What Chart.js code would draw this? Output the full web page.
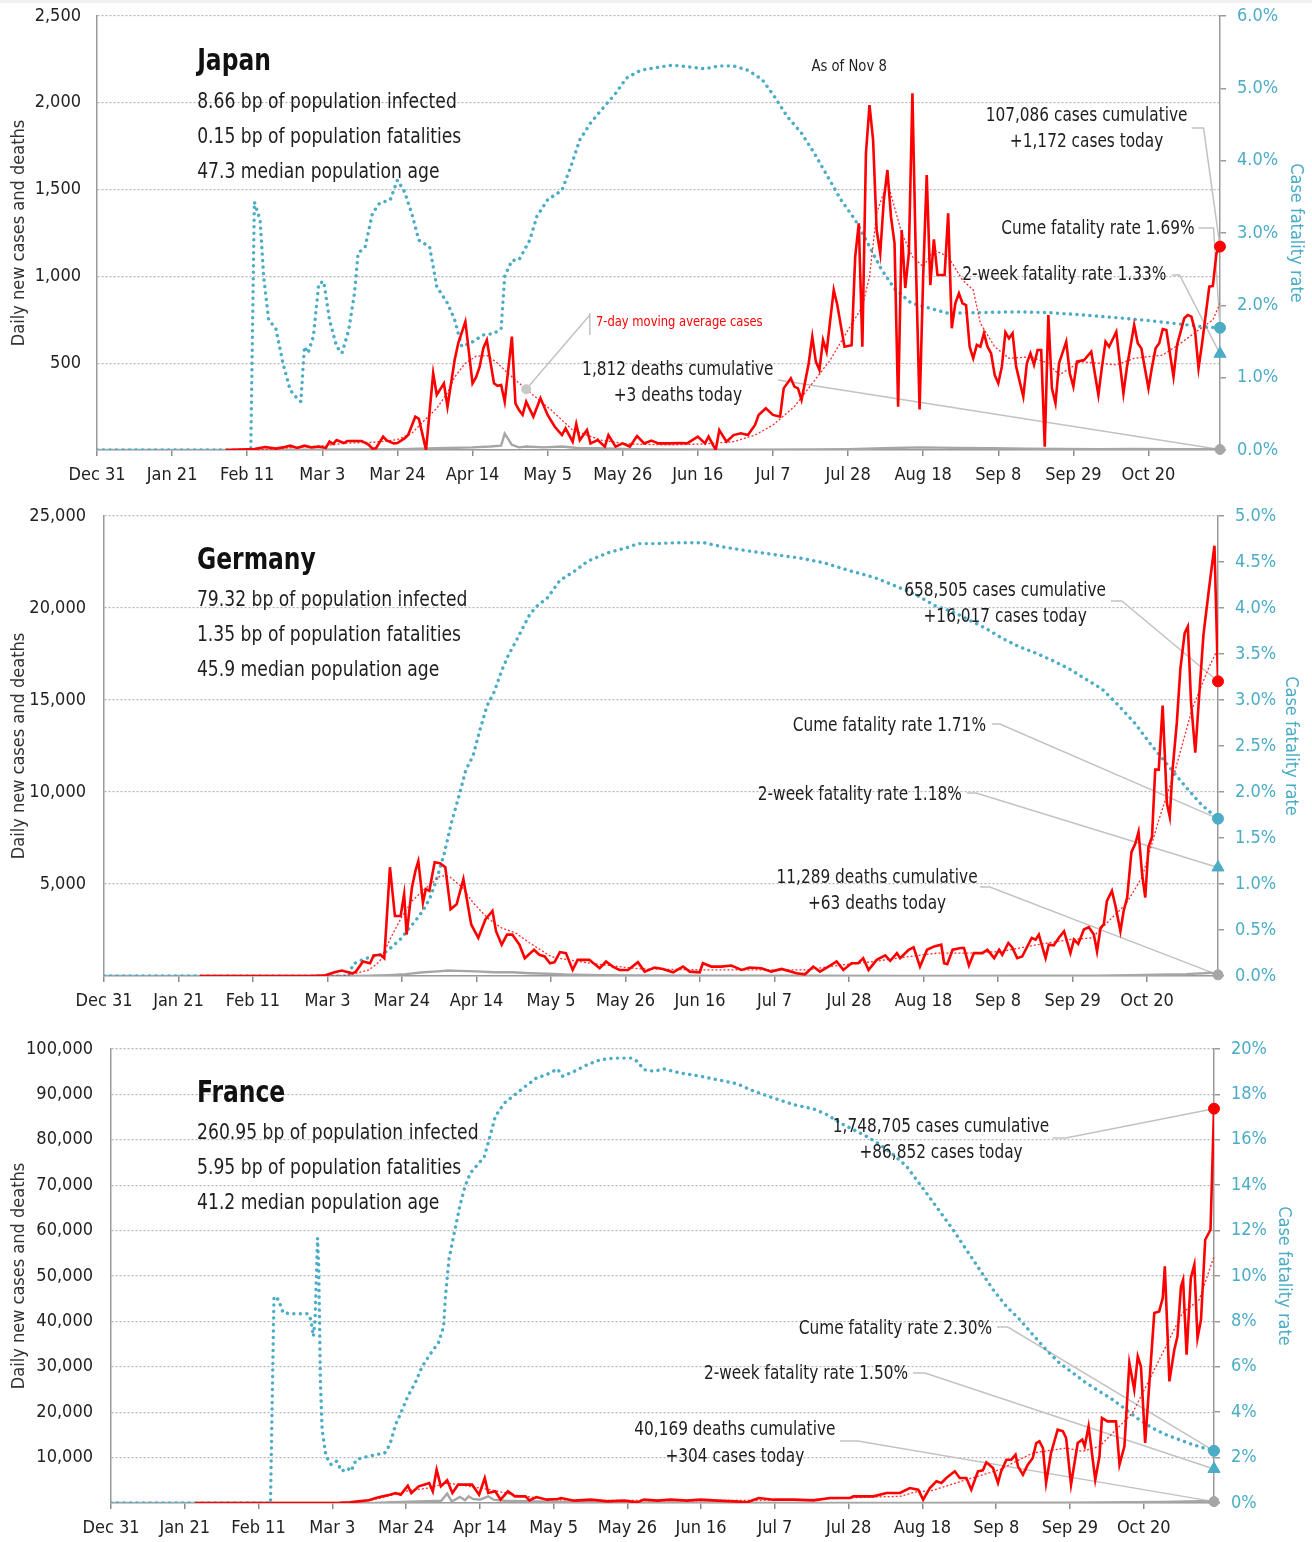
<!DOCTYPE html>
<html>
<head>
<meta charset="utf-8">
<script src="https://cdn.jsdelivr.net/npm/chart.js@4.4.1/dist/chart.umd.min.js"></script>
<style>
  body { margin:0; background:#fff; width:1312px; height:1542px; overflow:hidden; position:relative; }
  .strip { position:absolute; left:0; top:0; width:1312px; height:3px; background:#f0f0f0; }
  canvas { position:absolute; left:0; }
</style>
</head>
<body>
<div class="strip"></div>
<canvas id="japan" width="1312" height="500" style="top:0px;width:1312px;height:500px"></canvas>
<canvas id="germany" width="1312" height="530" style="top:500px;width:1312px;height:530px"></canvas>
<canvas id="france" width="1312" height="512" style="top:1030px;width:1312px;height:512px"></canvas>
<script>
// x values are days since Dec 31 (2019), last day = Nov 9
const tickLabels = ['Dec 31','Jan 21','Feb 11','Mar 3','Mar 24','Apr 14','May 5','May 26','Jun 16','Jul 7','Jul 28','Aug 18','Sep 8','Sep 29','Oct 20'];
const lastDay = 314;

// ---- Japan ----
const jpCases = [[36,0],[44,5],[47,17],[50,8],[52,15],[54,25],[56,12],[58,25],[60,15],[62,20],[64,12],[65,48],[66,35],[67,57],[69,40],[70,52],[72,52],[74,52],[76,30],[77,8],[78,10],[80,77],[81,55],[83,38],[84,40],[86,67],[87,86],[89,192],[90,180],[91,90],[92,0],[94,442],[95,317],[97,384],[98,250],[100,518],[101,615],[103,739],[105,384],[106,420],[107,480],[108,585],[109,633],[111,384],[112,370],[113,374],[114,278],[116,653],[117,269],[118,230],[119,202],[120,278],[122,192],[124,298],[126,202],[128,134],[130,86],[131,125],[133,48],[134,150],[135,57],[137,115],[138,38],[140,57],[142,19],[143,86],[145,19],[147,38],[149,19],[151,80],[153,38],[155,54],[157,38],[160,38],[163,40],[165,38],[168,77],[170,38],[171,77],[173,0],[174,115],[176,48],[178,86],[180,96],[182,86],[184,144],[185,202],[187,240],[189,202],[191,192],[192,355],[194,413],[195,365],[196,355],[197,288],[199,500],[200,653],[201,509],[202,461],[203,633],[204,566],[206,922],[207,835],[209,595],[211,604],[212,1114],[213,1306],[214,595],[215,1709],[216,1987],[217,1786],[218,1267],[219,1133],[220,1440],[221,1613],[222,1344],[223,1190],[224,250],[225,1267],[226,933],[227,1133],[228,2055],[229,1056],[230,233],[231,998],[232,1584],[233,950],[234,1213],[235,1008],[237,1008],[238,1363],[239,701],[240,845],[241,902],[242,845],[243,835],[244,595],[245,528],[246,605],[247,595],[248,672],[249,595],[250,557],[251,432],[252,384],[253,480],[254,678],[255,643],[256,672],[257,480],[259,307],[260,500],[261,557],[262,490],[263,576],[264,576],[265,19],[266,778],[267,355],[268,269],[269,500],[271,624],[272,442],[273,365],[274,509],[276,518],[278,566],[280,317],[281,480],[282,624],[283,595],[285,681],[286,500],[287,326],[288,480],[290,720],[291,615],[292,586],[294,355],[295,480],[296,586],[297,615],[298,697],[299,691],[301,422],[302,605],[304,759],[305,778],[306,768],[307,691],[308,471],[309,615],[311,941],[312,945],[313,1133],[314,1172]];
const jpAvg = [[36,0],[45,0],[55,15],[62,22],[70,40],[78,45],[84,60],[88,96],[92,180],[95,240],[98,330],[100,420],[103,500],[106,540],[109,545],[112,500],[115,440],[120,350],[127,230],[133,115],[141,57],[148,35],[160,29],[170,35],[178,48],[184,86],[189,144],[195,250],[200,384],[205,518],[210,691],[214,826],[216,1000],[218,1363],[221,1545],[225,1250],[228,1114],[231,1056],[234,1152],[238,1114],[242,979],[245,922],[247,730],[251,595],[255,528],[261,537],[266,500],[269,432],[275,509],[285,490],[290,528],[298,547],[303,615],[308,691],[312,749],[314,845]];
const jpDeaths = [[0,0],[50,0],[55,2],[70,3],[85,5],[95,10],[105,15],[110,20],[113,25],[114,95],[116,30],[118,15],[120,20],[125,15],[130,20],[135,10],[140,10],[150,5],[160,3],[180,2],[200,3],[210,5],[220,10],[230,15],[240,12],[250,10],[260,8],[270,6],[280,5],[290,6],[300,5],[310,4],[314,3]];
const jpCfr = [[0,0],[43,0],[44,3.43],[45.6,3.18],[46.6,2.40],[48,1.80],[50,1.68],[52,1.20],[54,0.83],[56,0.71],[57,0.67],[58,1.43],[59,1.34],[60.5,1.57],[62,2.30],[63.4,2.33],[65,1.80],[67,1.43],[68.5,1.34],[70.4,1.66],[72,2.17],[73,2.72],[75,2.81],[77,3.27],[79,3.41],[82,3.46],[84,3.73],[86,3.57],[88,3.27],[90,2.90],[93,2.81],[95,2.26],[98,2.03],[100,1.80],[102,1.43],[104.5,1.48],[108,1.59],[111,1.61],[113,1.68],[114,2.40],[116,2.62],[118,2.63],[121,2.90],[123,3.23],[126,3.46],[130,3.59],[132.5,3.92],[135,4.29],[138,4.52],[141,4.70],[145,4.93],[148,5.14],[152,5.25],[158,5.30],[161,5.32],[165,5.30],[170,5.27],[174,5.31],[178,5.31],[182,5.25],[186,5.12],[189.5,4.88],[193,4.61],[197,4.38],[200.6,4.10],[204.3,3.78],[208,3.46],[212,3.18],[215.5,2.86],[219.3,2.50],[223,2.23],[227.7,2.03],[231.4,1.98],[238,1.89],[247,1.90],[257,1.91],[266,1.90],[275,1.87],[285,1.83],[294,1.79],[303,1.74],[310,1.70],[314,1.69]];
const jpTwoWeek = 1.33;

// ---- Germany ----
const deCases = [[27,0],[58,0],[62,20],[65,200],[67,300],[70,146],[71,238],[73,787],[75,695],[76,1116],[78,1153],[79,970],[80.6,5911],[82,3257],[83.6,3257],[84.6,4447],[85.3,2251],[86.8,4813],[87.8,5728],[88.6,6240],[89.9,3989],[90.7,4721],[91.7,4630],[93.2,6185],[94.7,6130],[96.2,5911],[97.7,3623],[99.4,3898],[101.3,5270],[103.5,2800],[105.5,2068],[107.5,3074],[109.5,3532],[110.5,2434],[112.1,1702],[113.6,2251],[115.1,2251],[117.1,1702],[118.6,970],[121.2,1427],[122.7,1153],[124.2,1061],[125.7,695],[127,750],[128.5,1300],[130.2,1244],[132.1,330],[133.5,878],[136.8,878],[139.7,421],[141.5,787],[143.4,512],[145.3,330],[147.7,330],[150.5,750],[152.4,238],[155.2,458],[157.5,384],[160.4,201],[163.2,512],[165.1,238],[167.9,201],[168.8,695],[171.2,512],[174,512],[176.8,567],[179.7,330],[182,458],[185.3,421],[188.1,238],[191,384],[195.2,146],[197.6,92],[199.9,512],[201.8,238],[204.2,512],[206.5,787],[208.4,330],[210.7,695],[212.6,695],[214,970],[215.5,330],[217.8,878],[220.2,1116],[221.6,823],[223.5,1244],[224.4,970],[226.8,1427],[228.2,1555],[230,512],[232,1427],[234,1610],[236,1702],[236.8,695],[237.7,640],[239.2,1427],[241.5,1519],[242.4,1519],[243.8,567],[245.2,1244],[247.6,1244],[249,1427],[250.9,970],[252.3,1427],[253.2,1153],[254.9,1793],[256,1555],[257.4,970],[258.8,1061],[261.5,2068],[262.6,1976],[263.5,2251],[265.4,970],[266.3,1702],[267.7,1665],[269.1,2068],[270.6,2434],[272.4,1244],[273.4,1976],[274.6,1738],[276.2,2525],[277.6,2654],[279,2251],[279.9,1336],[280.9,2617],[281.8,2800],[282.7,4081],[284.1,4630],[285.1,3806],[286.5,2434],[287.4,3532],[288.4,4264],[289.6,6734],[290.7,7192],[291.6,7832],[292.6,5545],[293.5,4264],[294.4,7009],[295.4,7558],[296.3,11218],[297.3,11218],[298.4,14695],[299.6,9388],[300.4,8656],[301.2,11218],[302.4,13780],[303.4,16708],[304.6,18629],[305.5,18995],[306.4,14878],[307.6,12133],[308.7,15244],[309.9,18538],[311.5,21100],[313,23387],[314,16017]];
const deAvg = [[27,0],[68,0],[72,200],[74.7,330],[77.7,787],[80.8,2068],[83.8,3166],[86.8,4081],[90.9,4813],[94.9,5453],[97.4,5400],[101,4813],[104,3989],[108,3166],[112,2617],[116,2342],[120,1793],[126,1061],[128,970],[137,695],[151,384],[170,330],[189,330],[198,330],[208,604],[217,787],[227,1061],[235,1244],[244,1244],[253,1336],[263,1702],[272,1976],[278.5,2068],[283.2,2983],[288,3898],[292.6,5362],[297.3,8473],[302,11218],[306.7,14512],[311.3,16708],[314,17806]];
const deDeaths = [[0,0],[68,0],[75,20],[80,50],[85,100],[90,200],[94,250],[97,300],[100,280],[105,250],[110,200],[115,200],[120,150],[125,120],[130,80],[140,50],[150,30],[170,20],[200,10],[230,8],[260,10],[280,20],[290,40],[300,80],[305,100],[310,150],[312,180],[314,63]];
const deCfr = [[0,0],[69,0],[70.2,0.13],[73.7,0.19],[77.7,0.23],[79.8,0.27],[81.8,0.34],[83.8,0.41],[85.8,0.51],[87.8,0.60],[89.9,0.71],[91.9,0.85],[93.9,1.07],[95.9,1.33],[97.9,1.66],[100,1.95],[102,2.24],[104,2.39],[106,2.68],[108,2.94],[110,3.09],[112,3.31],[114,3.49],[116,3.63],[118,3.78],[120,3.93],[122,4.02],[125,4.11],[128.5,4.30],[132.6,4.40],[136.4,4.51],[142,4.60],[147.7,4.66],[150.5,4.70],[156,4.70],[161,4.71],[169,4.71],[175,4.66],[181.6,4.62],[189,4.58],[196.6,4.54],[203,4.49],[210.7,4.40],[217.3,4.33],[223,4.24],[228.6,4.15],[234.5,4.02],[239.2,3.96],[243.8,3.87],[248.5,3.78],[253.2,3.67],[257.9,3.58],[262.6,3.51],[267.3,3.43],[272,3.34],[276.6,3.23],[281.3,3.12],[286,2.94],[290.7,2.74],[295.4,2.50],[300.1,2.28],[304.8,2.06],[309.4,1.86],[314,1.71]];
const deTwoWeek = 1.18;

// ---- France ----
const frCases = [[24,0],[60,0],[65,50],[68,150],[70.3,367],[73.4,587],[75.4,1101],[77.4,1468],[79.4,1835],[81,2202],[82.5,1835],[84.5,3817],[85.5,2202],[87.6,3670],[89.1,4037],[90.6,4404],[91.6,2569],[92.7,7340],[93.9,3670],[95.7,4991],[97.2,2202],[98.8,4037],[100.8,4037],[102.8,4037],[104.8,1835],[106.4,5505],[107.4,2202],[109.4,2569],[110.9,734],[113,2569],[115,1468],[118,1468],[119.1,587],[121.1,1321],[124.1,734],[127.2,881],[128.1,1101],[131.9,514],[136.6,734],[141.3,367],[146.1,514],[149.8,147],[151.7,734],[155.5,514],[159.3,734],[164,514],[167.8,734],[172.5,514],[177.3,367],[181.1,147],[184.4,1101],[188.6,734],[194.3,734],[200,587],[204.7,1101],[210.4,1101],[211.3,1468],[217,1468],[220.8,2202],[224.6,2202],[227.4,3303],[229.8,2936],[231.2,734],[233.1,3303],[235,4771],[236.4,4404],[237.8,5505],[240.2,6973],[241.6,5505],[243.5,5505],[244.9,2936],[246.8,6973],[248.2,7193],[249.2,8955],[251.1,7707],[252.5,4404],[253.4,6973],[254.9,9542],[256.3,9542],[257.5,10643],[258.2,8074],[259.6,6239],[261,8441],[262.4,9909],[263.4,13212],[264.3,13579],[265.3,12111],[266.2,4404],[267.6,11010],[269.5,16148],[271,15781],[271.9,14313],[273.3,4037],[275.2,13212],[276.5,13946],[277.2,12478],[278.3,16882],[280.2,5138],[281.4,10276],[282.1,18717],[283.7,17983],[286.1,17983],[287.1,8441],[288.5,12478],[289.9,30828],[291.3,24956],[292.3,32296],[293.2,30094],[294.4,13212],[295.6,26424],[297,41838],[298.4,42205],[299.4,45141],[300,52114],[301.3,26791],[302.7,33764],[303.6,36700],[304.6,47710],[305.2,49178],[306.2,32663],[307.4,49545],[308.4,52481],[309.3,36333],[310.3,40370],[311.5,57986],[313,60188],[314,86852]];
const frAvg = [[24,0],[66,0],[70,250],[75,800],[80.5,1835],[85,2800],[90.6,3303],[95.7,4404],[100.8,3817],[107.9,2936],[116,1615],[126,734],[140,550],[160,550],[180,550],[198,734],[217,1321],[224.6,1468],[229,2400],[234,2800],[243.5,5138],[253,7340],[262.4,11010],[271.9,12111],[276.6,11377],[281.4,12478],[286.1,16148],[290.8,19818],[295.6,27158],[300.3,34498],[305,41838],[309.8,44774],[314,54316]];
const frDeaths = [[0,0],[70,0],[75,30],[80,150],[85,300],[90,400],[94,500],[95.7,2055],[97,300],[99.3,1321],[100.8,600],[101.8,1468],[103,900],[105,734],[107.4,1468],[108.9,734],[112,500],[118,400],[125,300],[135,150],[150,80],[170,50],[200,30],[230,30],[250,50],[270,80],[290,150],[300,250],[306,350],[310,400],[314,304]];
const frCfr = [[0,0],[45.4,0],[46.4,9.10],[47.7,8.96],[49,8.37],[52,8.34],[56,8.34],[56.9,8.08],[57.6,7.34],[58.1,8.08],[58.4,9.69],[58.8,11.67],[59.1,10.57],[59.4,7.64],[59.6,5.43],[60.1,3.23],[61.2,2.06],[62.7,1.69],[64.2,1.84],[65.7,1.40],[67.3,1.54],[68.3,1.40],[69.8,1.91],[71.3,1.98],[73.4,2.06],[75.4,2.13],[77.9,2.20],[79.4,2.57],[81,3.45],[82.5,3.96],[84.5,4.70],[86.6,5.29],[88.6,6.02],[91.1,6.61],[93.2,7.05],[94.7,7.78],[95.2,9.10],[96.2,10.72],[97.7,11.89],[99.3,13.07],[100.8,13.95],[102.3,14.54],[104.8,14.98],[106.3,15.27],[107.9,16.15],[109.4,17.03],[112,17.62],[115,17.99],[118,18.36],[121.1,18.72],[124,18.87],[127.1,19.12],[128.6,18.80],[131.9,19.02],[135.6,19.31],[139.4,19.53],[143.2,19.60],[147.9,19.60],[149.8,19.46],[151.7,19.09],[154.6,19.02],[157.4,19.12],[162.1,18.94],[167.8,18.80],[172.5,18.65],[178.2,18.47],[183,18.14],[188.6,17.84],[194.3,17.55],[200,17.36],[203.8,17.11],[207.6,16.74],[211.3,16.45],[215.1,16.15],[218.9,15.79],[222.7,15.35],[226.5,14.83],[229.3,14.24],[232.1,13.66],[235.9,12.85],[239.7,12.04],[243.5,11.16],[247.3,10.28],[251.1,9.40],[254.9,8.66],[258.7,8.08],[262.4,7.42],[266.2,6.75],[270,6.17],[273.8,5.73],[277.6,5.29],[281.4,4.92],[285.2,4.55],[289,4.11],[292.7,3.67],[296.5,3.30],[300.3,3.01],[304.1,2.79],[307.9,2.57],[314,2.30]];
const frTwoWeek = 1.50;

const FONT = "'Liberation Sans Narrow', 'DejaVu Sans Condensed', 'DejaVu Sans', sans-serif";
const SX = 0.88; // horizontal squeeze for the note texts, the original face is condensed
Chart.defaults.font.family = FONT;
Chart.defaults.color = '#222';

function pts(arr){ return arr.map(p => ({x: p[0], y: p[1]})) }
function last(arr){ return arr[arr.length - 1][1] }

// text notes + leader lines, placed in data units (day, left-axis value)
function makeNotes(notes){
  return {
    id: 'notes',
    beforeDatasetsDraw(chart){
      const {ctx} = chart, x = chart.scales.x, y = chart.scales.y, y2 = chart.scales.y2;
      ctx.save();
      ctx.strokeStyle = '#c2c2c2';
      ctx.lineWidth = 1.5;
      notes.leaders.forEach(l => {
        const sc = l.axis == 'y2' ? y2 : y;
        ctx.beginPath();
        ctx.moveTo(x.getPixelForValue(l.from[0]), y.getPixelForValue(l.from[1]));
        if (l.elbow) ctx.lineTo(x.getPixelForValue(l.elbow), y.getPixelForValue(l.from[1]));
        ctx.lineTo(x.getPixelForValue(l.to[0]), sc.getPixelForValue(l.to[1]));
        ctx.stroke();
      });
      ctx.restore();
    },
    afterDraw(chart){
      const {ctx} = chart, x = chart.scales.x, y = chart.scales.y;
      ctx.save();
      (notes.dots || []).forEach(d => {
        ctx.fillStyle = '#c8c8c8';
        ctx.beginPath();
        ctx.arc(x.getPixelForValue(d[0]), y.getPixelForValue(d[1]), 5, 0, Math.PI * 2);
        ctx.fill();
      });
      ctx.textBaseline = 'middle';
      notes.texts.forEach(t => {
        ctx.save();
        ctx.translate(x.getPixelForValue(t.x), y.getPixelForValue(t.y));
        ctx.scale(SX, 1);
        ctx.font = (t.bold ? 'bold ' : '') + (t.size || 19.4) + 'px ' + FONT;
        ctx.fillStyle = t.color || '#1e1e1e';
        ctx.textAlign = t.align || 'left';
        ctx.fillText(t.t, 0, 0);
        ctx.restore();
      });
      ctx.restore();
    }
  };
}

function marker(v, color, style, r, axis){
  return {data: [{x: lastDay, y: v}], yAxisID: axis, showLine: false, pointStyle: style,
    pointRadius: r, pointBackgroundColor: color, pointBorderColor: color, clip: false};
}

function noPad(sc){ sc.paddingTop = 0; sc.paddingBottom = 0; sc.paddingLeft = 0; sc.paddingRight = 0; }

function createChart(id, s, lay, notes){
  const ctx = document.getElementById(id).getContext('2d');
  return new Chart(ctx, {
    type: 'line',
    data: {
      datasets: [
        marker(last(s.cases), '#ff0000', 'circle', 5.5, 'y'),
        marker(last(s.cfr), '#4bacc6', 'circle', 5.5, 'y2'),
        marker(s.twoWeek, '#4bacc6', 'triangle', 7, 'y2'),
        marker(last(s.deaths), '#a6a6a6', 'circle', 5, 'y'),
        {label: 'Daily new cases', data: pts(s.cases), yAxisID: 'y', borderColor: '#ff0000', borderWidth: 2.6},
        {label: '7-day moving average cases', data: pts(s.avg), yAxisID: 'y', borderColor: '#ff2a2a', borderWidth: 1.3, borderDash: [2, 2]},
        {label: 'Case fatality rate', data: pts(s.cfr), yAxisID: 'y2', borderColor: '#4bacc6', borderWidth: 3.4, borderDash: [0.1, 6.4], borderCapStyle: 'round'},
        {label: 'Daily deaths', data: pts(s.deaths), yAxisID: 'y', borderColor: '#a6a6a6', borderWidth: 2.4}
      ]
    },
    options: {
      responsive: false, animation: false, devicePixelRatio: 1, events: [],
      layout: {padding: {top: lay.top, left: 0, right: 0, bottom: 0}, autoPadding: false},
      elements: {point: {radius: 0}, line: {tension: 0}},
      plugins: {legend: {display: false}, tooltip: {enabled: false}},
      scales: {
        x: {
          type: 'linear', min: 0, max: lastDay,
          afterBuildTicks: sc => { sc.ticks = tickLabels.map((l, i) => ({value: i * 21})) },
          afterFit: sc => { sc.height = lay.xh; noPad(sc) },
          ticks: {callback: (v, i) => tickLabels[i], font: {size: 18}, color: '#222', padding: 9, maxRotation: 0, autoSkip: false},
          grid: {drawOnChartArea: false, drawTicks: true, tickLength: 6, color: '#8c8c8c', lineWidth: 1.5},
          border: {color: '#9a9a9a', width: 1.5}
        },
        y: {
          position: 'left', min: 0, max: s.yMax,
          afterFit: sc => { sc.width = lay.yw; noPad(sc) },
          ticks: {stepSize: s.yStep, autoSkip: false, callback: v => v === 0 ? '' : v.toLocaleString('en-US'), font: {size: 18}, color: '#222', padding: lay.yPad},
          grid: {color: '#b4b4b4', lineWidth: 1.2, drawTicks: false},
          border: {color: '#9a9a9a', width: 1.5, dash: [2, 2]},
          title: {display: true, text: 'Daily new cases and deaths', font: {size: 18}, color: '#333', padding: {top: 9, bottom: 0}}
        },
        y2: {
          position: 'right', min: 0, max: s.cfrMax,
          afterFit: sc => { sc.width = lay.y2w; noPad(sc) },
          ticks: {stepSize: s.cfrStep, autoSkip: false, callback: v => v.toFixed(s.cfrDec) + '%', font: {size: 18}, color: '#4bacc6', padding: 11},
          grid: {drawOnChartArea: false, drawTicks: true, tickLength: 6, color: '#9a9a9a', lineWidth: 1.5},
          border: {color: '#9a9a9a', width: 1.5},
          title: {display: true, text: 'Case fatality rate', font: {size: 18}, color: '#4bacc6', padding: {top: lay.y2tPad, bottom: 0}}
        }
      }
    },
    plugins: [makeNotes(notes)]
  });
}

// Japan
createChart('japan',
  {cases: jpCases, avg: jpAvg, deaths: jpDeaths, cfr: jpCfr, twoWeek: jpTwoWeek, yMax: 2500, yStep: 500, cfrMax: 6, cfrStep: 1, cfrDec: 1},
  {top: 16, xh: 50, yw: 97, y2w: 92, yPad: 16, y2tPad: 6},
  {
    texts: [
      {t: 'Japan', x: 28, y: 2235, size: 29.6, bold: true, color: '#111'},
      {t: '8.66 bp of population infected', x: 28, y: 2005, size: 21.7},
      {t: '0.15 bp of population fatalities', x: 28, y: 1803, size: 21.7},
      {t: '47.3 median population age', x: 28, y: 1601, size: 21.7},
      {t: 'As of Nov 8', x: 210.3, y: 2206, size: 16.7, align: 'center'},
      {t: '107,086 cases cumulative', x: 276.7, y: 1924, align: 'center'},
      {t: '+1,172 cases today', x: 276.7, y: 1774, align: 'center'},
      {t: 'Cume fatality rate 1.69%', x: 306.9, y: 1273, align: 'right'},
      {t: '2-week fatality rate 1.33%', x: 299, y: 1008, align: 'right'},
      {t: '1,812 deaths cumulative', x: 162.4, y: 461, align: 'center'},
      {t: '+3 deaths today', x: 162.4, y: 311, align: 'center'},
      {t: '7-day moving average cases', x: 139.5, y: 737, size: 14.6, color: '#ff0000'}
    ],
    leaders: [
      {from: [306.1, 1855], elbow: 309.4, to: [lastDay, last(jpCases)]},
      {from: [308, 1279], elbow: 312.2, to: [lastDay, last(jpCfr)], axis: 'y2'},
      {from: [300.5, 1008], elbow: 302.7, to: [lastDay, jpTwoWeek], axis: 'y2'},
      {from: [190.4, 403], to: [lastDay, last(jpDeaths)]},
      {from: [137.8, 789], to: [137.8, 662]},
      {from: [137.8, 778], to: jpAvg.find(p => p[0] === 120)}
    ],
    dots: [jpAvg.find(p => p[0] === 120)]
  });

// Germany
createChart('germany',
  {cases: deCases, avg: deAvg, deaths: deDeaths, cfr: deCfr, twoWeek: deTwoWeek, yMax: 25000, yStep: 5000, cfrMax: 5, cfrStep: 0.5, cfrDec: 1},
  {top: 16, xh: 54, yw: 104, y2w: 94, yPad: 18, y2tPad: 11},
  {
    texts: [
      {t: 'Germany', x: 26.2, y: 22554, size: 29.6, bold: true, color: '#111'},
      {t: '79.32 bp of population infected', x: 26.2, y: 20435, size: 21.7},
      {t: '1.35 bp of population fatalities', x: 26.2, y: 18533, size: 21.7},
      {t: '45.9 median population age', x: 26.2, y: 16630, size: 21.7},
      {t: '658,505 cases cumulative', x: 254, y: 20924, align: 'center'},
      {t: '+16,017 cases today', x: 254, y: 19511, align: 'center'},
      {t: 'Cume fatality rate 1.71%', x: 248.6, y: 13587, align: 'right'},
      {t: '2-week fatality rate 1.18%', x: 241.8, y: 9837, align: 'right'},
      {t: '11,289 deaths cumulative', x: 217.9, y: 5326, align: 'center'},
      {t: '+63 deaths today', x: 217.9, y: 3913, align: 'center'}
    ],
    leaders: [
      {from: [283.8, 20380], elbow: 286.9, to: [lastDay, last(deCases)]},
      {from: [250.3, 13696], elbow: 252.5, to: [lastDay, last(deCfr)], axis: 'y2'},
      {from: [243.2, 9946], elbow: 245.8, to: [lastDay, deTwoWeek], axis: 'y2'},
      {from: [246.9, 4837], elbow: 249.7, to: [lastDay, last(deDeaths)]}
    ]
  });

// France
createChart('france',
  {cases: frCases, avg: frAvg, deaths: frDeaths, cfr: frCfr, twoWeek: frTwoWeek, yMax: 100000, yStep: 10000, cfrMax: 20, cfrStep: 2, cfrDec: 0},
  {top: 19, xh: 39, yw: 111, y2w: 98, yPad: 18, y2tPad: 18},
  {
    texts: [
      {t: 'France', x: 24.5, y: 90088, size: 29.6, bold: true, color: '#111'},
      {t: '260.95 bp of population infected', x: 24.5, y: 81498, size: 21.7},
      {t: '5.95 bp of population fatalities', x: 24.5, y: 73789, size: 21.7},
      {t: '41.2 median population age', x: 24.5, y: 66079, size: 21.7},
      {t: '1,748,705 cases cumulative', x: 236.3, y: 82819, align: 'center'},
      {t: '+86,852 cases today', x: 236.3, y: 77093, align: 'center'},
      {t: 'Cume fatality rate 2.30%', x: 250.8, y: 38326, align: 'right'},
      {t: '2-week fatality rate 1.50%', x: 226.9, y: 28414, align: 'right'},
      {t: '40,169 deaths cumulative', x: 177.6, y: 16079, align: 'center'},
      {t: '+304 cases today', x: 177.6, y: 10132, align: 'center'}
    ],
    leaders: [
      {from: [268.1, 80396], elbow: 271.8, to: [lastDay, last(frCases)]},
      {from: [252.2, 38767], elbow: 255.3, to: [lastDay, last(frCfr)], axis: 'y2'},
      {from: [228.3, 28634], elbow: 231.7, to: [lastDay, frTwoWeek], axis: 'y2'},
      {from: [207.5, 13656], elbow: 212.6, to: [lastDay, last(frDeaths)]}
    ]
  });
</script>
</body>
</html>
